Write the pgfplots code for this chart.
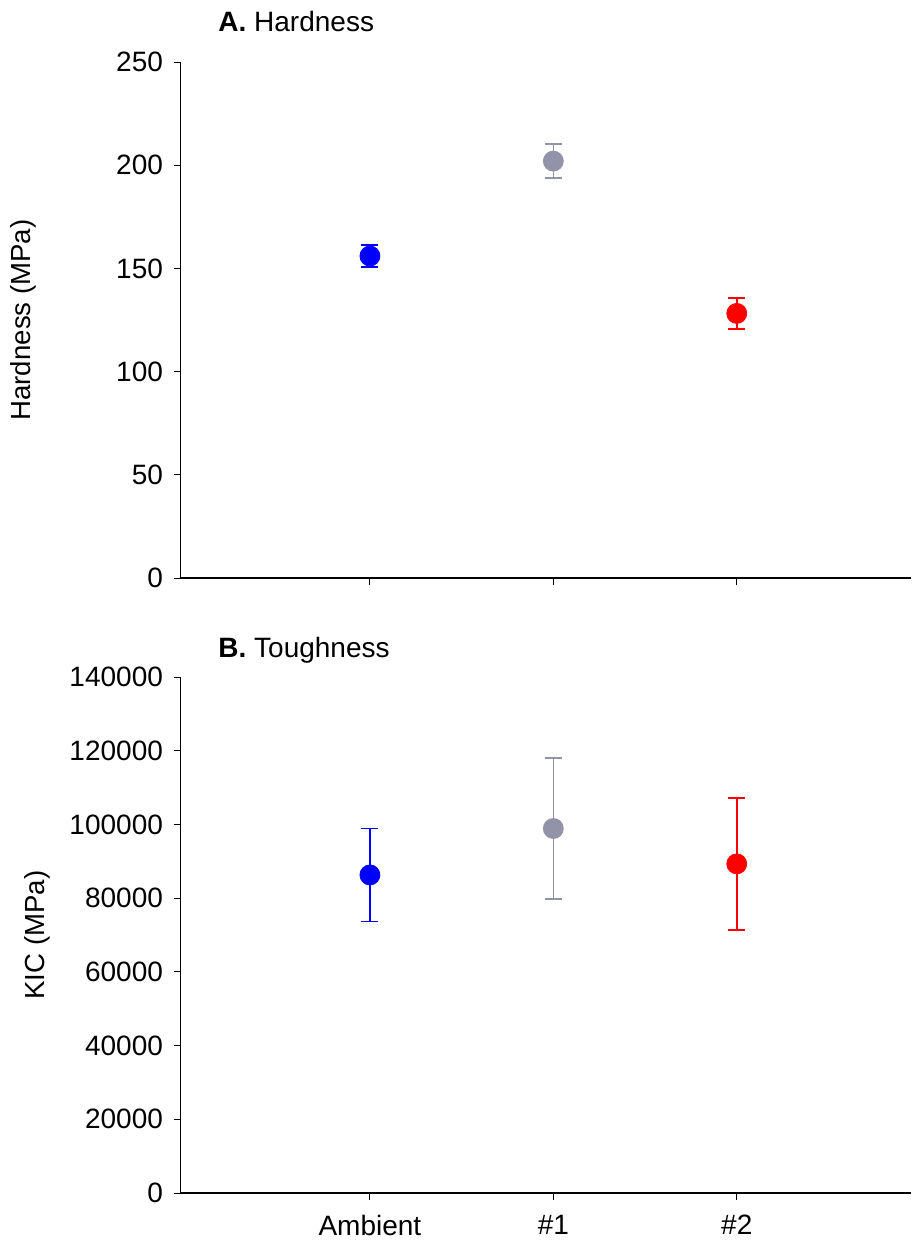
\documentclass[border=0pt]{standalone}
\usepackage{pgfplots}
\pgfplotsset{compat=1.18}
\usepackage{fontspec}
\setmainfont{Liberation Sans}

\definecolor{ptblue}{RGB}{0,0,255}
\definecolor{ptgray}{RGB}{146,146,168}
\definecolor{ptred}{RGB}{255,0,0}

\pgfplotsset{
  panel/.style={
    scale only axis, width=365pt, height=258pt,
    axis x line*=bottom, axis y line*=left,
    x axis line style={line width=1pt, -},
    y axis line style={line width=0.5pt, -},
    xmin=-1.03, xmax=2.95, ymin=0,
    xtick={0,1,2},
    tick align=outside,
    tick style={line width=0.5pt, black},
    major tick length=3.5pt,
    clip=false,
    scaled y ticks=false,
    /pgf/number format/fixed,
    /pgf/number format/set thousands separator={},
    /pgf/number format/assume math mode=true,
    tick label style={font=\fontsize{14}{14}\selectfont},
    yticklabel style={xshift=-2pt},
    xticklabel style={yshift=-4pt},
    ylabel style={anchor=center, font=\fontsize{13.8}{13.8}\selectfont},
    title style={at={(axis description cs:0.0507,1)}, anchor=base west,
                 inner sep=0pt, font=\fontsize{14}{14}\selectfont},
  },
  pt/.style={only marks, mark=*, mark size=5pt, color=#1,
    mark options={fill=#1, draw=#1},
    error bars/.cd, y dir=both, y explicit,
    error bar style={line width=0.8pt, color=#1},
    error mark options={rotate=90, mark size=4.25pt, line width=0.8pt, color=#1}},
}

\begin{document}
\begin{tikzpicture}
\begin{axis}[panel, at={(0,0)}, anchor=north west,
    ymax=250, ytick={0,50,100,150,200,250},
    xticklabels={},
    ylabel={Hardness (MPa)},
    ylabel style={at={(axis description cs:-0.2164,0.5)}},
    title={\textbf{A.} Hardness},
    title style={yshift=9.5pt}]
\addplot[pt=ptblue] coordinates {(0,156) +- (0,5.3)};
\addplot[pt=ptgray] coordinates {(1,202) +- (0,8.2)};
\addplot[pt=ptred] coordinates {(2,128.2) +- (0,7.6)};
\end{axis}

\begin{axis}[panel, at={(0,-307.5pt)}, anchor=north west,
    ymax=140000, ytick={0,20000,40000,60000,80000,100000,120000,140000},
    xticklabels={Ambient,\#1,\#2},
    ylabel={KIC (MPa)},
    ylabel style={at={(axis description cs:-0.197,0.5)}},
    title={\textbf{B.} Toughness},
    title style={yshift=4pt}]
\addplot[pt=ptblue] coordinates {(0,86300) +- (0,12600)};
\addplot[pt=ptgray] coordinates {(1,98900) +- (0,19200)};
\addplot[pt=ptred] coordinates {(2,89300) +- (0,17900)};
\end{axis}

\path[use as bounding box] (-90.5pt,31pt) rectangle (365pt,-593.5pt);
\end{tikzpicture}
\end{document}
